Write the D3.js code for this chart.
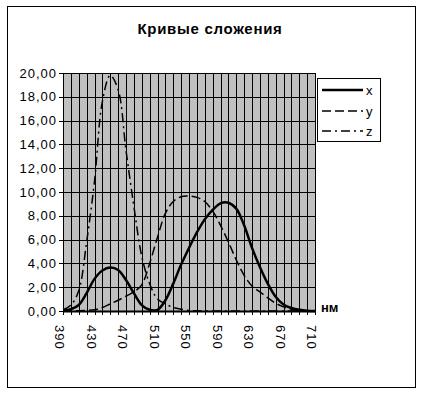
<!DOCTYPE html>
<html>
<head>
<meta charset="utf-8">
<script src="https://cdn.jsdelivr.net/npm/d3@7"></script>
<style>
body { margin: 0; background: #fff; }
text { font-family: Arial, "Liberation Sans", sans-serif; fill: #000; }
</style>
</head>
<body>
<svg width="421" height="393"></svg>
<script>
// wavelengths (nm), one category every 10 nm
var nm = [390, 400, 410, 420, 430, 440, 450, 460, 470, 480,
          490, 500, 510, 520, 530, 540, 550, 560, 570, 580,
          590, 600, 610, 620, 630, 640, 650, 660, 670, 680,
          690, 700, 710];
var xVals = [0.05, 0.15, 0.5, 1.5, 2.7, 3.4, 3.65, 3.45, 2.6, 1.5,
             0.5, 0.1, 0.1, 0.9, 2.3, 3.9, 5.3, 6.6, 7.7, 8.5,
             9.05, 9.1, 8.6, 7.2, 5.3, 3.7, 2.3, 1.2, 0.55, 0.25,
             0.1, 0.03, 0.01];
var yVals = [0, 0, 0.02, 0.05, 0.1, 0.3, 0.6, 0.9, 1.25, 1.6,
             2.2, 4.0, 6.2, 8.2, 9.2, 9.6, 9.65, 9.55, 9.2, 8.4,
             7.2, 5.8, 4.3, 3.0, 2.1, 1.6, 1.1, 0.65, 0.35, 0.15,
             0.05, 0.02, 0];
var zVals = [0.1, 0.5, 1.7, 5.8, 10.9, 17.6, 19.8, 18.6, 13.5, 8.8,
             4.6, 2.3, 1.0, 0.6, 0.3, 0.15, 0.05, 0.02, 0, 0,
             0, 0, 0, 0, 0, 0, 0, 0, 0, 0,
             0, 0, 0];
var yTicks = [0, 2, 4, 6, 8, 10, 12, 14, 16, 18, 20];
var xLabels = [390, 430, 470, 510, 550, 590, 630, 670, 710];
var seriesNames = ["x", "y", "z"];

var svg = d3.select("svg");

var plot = { left: 63, top: 73, right: 315, bottom: 311 };

var x = d3.scaleLinear().domain([390, 710]).range([plot.left, plot.right]);
var y = d3.scaleLinear().domain([0, 20]).range([plot.bottom, plot.top]);

var fmt = function (d) { return d3.format(".2f")(d).replace(".", ","); };

// outer frame
svg.append("rect")
    .attr("x", 7.5).attr("y", 6.5)
    .attr("width", 408).attr("height", 381)
    .attr("fill", "#fff").attr("stroke", "#000");

// title
svg.append("text")
    .attr("x", 210).attr("y", 34)
    .attr("text-anchor", "middle")
    .style("font-size", "15px").style("font-weight", "bold")
    .style("letter-spacing", "0.7px")
    .text("Кривые сложения");

// plot background
svg.append("rect")
    .attr("x", plot.left).attr("y", plot.top)
    .attr("width", plot.right - plot.left).attr("height", plot.bottom - plot.top)
    .attr("fill", "#c0c0c0");

// grid
svg.append("g")
    .selectAll("line")
    .data(nm)
    .enter().append("line")
    .attr("x1", function (d) { return Math.round(x(d)) + 0.5; })
    .attr("x2", function (d) { return Math.round(x(d)) + 0.5; })
    .attr("y1", plot.top).attr("y2", plot.bottom + 4)
    .attr("stroke", "#000");

svg.append("g")
    .selectAll("line")
    .data(yTicks)
    .enter().append("line")
    .attr("x1", plot.left - 4).attr("x2", plot.right)
    .attr("y1", function (d) { return Math.round(y(d)) + 0.5; })
    .attr("y2", function (d) { return Math.round(y(d)) + 0.5; })
    .attr("stroke", "#000");

// x axis line
svg.append("line")
    .attr("x1", plot.left).attr("x2", plot.right + 1)
    .attr("y1", plot.bottom + 0.5).attr("y2", plot.bottom + 0.5)
    .attr("stroke", "#000").attr("stroke-width", 2);

// y labels
svg.append("g")
    .selectAll("text")
    .data(yTicks)
    .enter().append("text")
    .attr("x", 57)
    .attr("y", function (d) { return y(d); })
    .attr("dy", "0.35em")
    .attr("text-anchor", "end")
    .style("font-size", "13px")
    .style("letter-spacing", "1px")
    .text(fmt);

// x labels, rotated
svg.append("g")
    .selectAll("text")
    .data(xLabels)
    .enter().append("text")
    .attr("transform", function (d) {
        return "translate(" + (x(d) - 3) + ",325) rotate(90)";
    })
    .attr("dy", "0.35em")
    .style("font-size", "13px")
    .style("letter-spacing", "1px")
    .text(function (d) { return d; });

svg.append("text")
    .attr("x", 321).attr("y", 312)
    .style("font-size", "13px").style("font-weight", "bold")
    .text("нм");

// curves
var styles = {
    x: { width: 2.5, dash: null },
    y: { width: 1.5, dash: "9,4" },
    z: { width: 1.5, dash: "9,4,2,4" }
};
var seriesData = { x: xVals, y: yVals, z: zVals };

var line = d3.line()
    .x(function (d) { return x(d[0]); })
    .y(function (d) { return y(d[1]); })
    .curve(d3.curveCatmullRom.alpha(0.5));

seriesNames.forEach(function (s) {
    svg.append("path")
        .datum(nm.map(function (w, i) { return [w, seriesData[s][i]]; }))
        .attr("d", line)
        .attr("fill", "none")
        .attr("stroke", "#000")
        .attr("stroke-width", styles[s].width)
        .attr("stroke-dasharray", styles[s].dash);
});

// legend
var legend = svg.append("g");
legend.append("rect")
    .attr("x", 317.5).attr("y", 78.5)
    .attr("width", 63).attr("height", 63)
    .attr("fill", "#fff").attr("stroke", "#000");

var rows = legend.selectAll("g.row")
    .data(seriesNames)
    .enter().append("g")
    .attr("class", "row")
    .attr("transform", function (d, i) { return "translate(0," + [90, 111, 131][i] + ")"; });

rows.append("line")
    .attr("x1", 322).attr("x2", 363)
    .attr("stroke", "#000")
    .attr("stroke-width", function (d) { return d == "x" ? 2.5 : 1.5; })
    .attr("stroke-dasharray", function (d) { return styles[d].dash; });

rows.append("text")
    .attr("x", 366).attr("dy", "0.35em")
    .style("font-size", "13px")
    .text(function (d) { return d; });
</script>
</body>
</html>
